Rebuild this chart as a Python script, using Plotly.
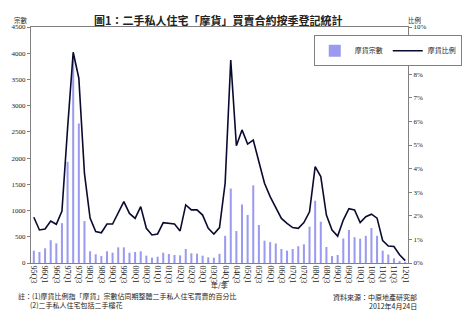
import plotly.graph_objects as go

# Quarters 95Q3 .. 12Q1
quarters = (["95Q3", "95Q4"]
            + [f"{y:02d}Q{q}" for y in list(range(96, 100)) + list(range(0, 12)) for q in range(1, 5)]
            + ["12Q1"])

# Confirmor transactions (cases)
cases = [235, 210, 280, 435, 375, 760, 1930, 3950, 2660, 800,
         223, 166, 134, 223, 197, 299, 299, 197, 210, 223,
         140, 102, 121, 197, 172, 153, 146, 267, 185, 178,
         140, 108, 101, 175, 518, 1420, 610, 1115, 915, 1480,
         725, 425, 398, 372, 267, 235, 267, 320, 356, 692,
         1188, 788, 305, 133, 153, 466, 629, 492, 464, 518,
         667, 518, 235, 162, 89, 30, 15]

# Confirmor share of all secondary transactions (%)
share = [1.94, 1.40, 1.44, 1.78, 1.64, 2.2, 5.7, 8.93, 7.83, 3.8,
         1.9, 1.33, 1.28, 1.65, 1.65, 2.13, 2.6, 2.1, 1.89, 2.39,
         1.47, 1.19, 1.23, 1.71, 1.68, 1.65, 1.36, 2.46, 2.25, 2.25,
         2.03, 1.47, 1.23, 1.5, 3.38, 8.6, 4.97, 5.64, 5.04, 5.21,
         4.29, 3.38, 2.81, 2.32, 1.89, 1.68, 1.5, 1.47, 1.71, 2.17,
         4.08, 3.66, 2.03, 1.4, 1.14, 1.82, 2.3, 2.25, 1.71, 1.96,
         2.07, 1.9, 0.95, 0.72, 0.7, 0.35, 0.1]

pct_ticks = list(range(0, 11))
pct_labels = [f"{v}%" for v in pct_ticks]

CJK = "Noto Sans CJK TC"
NUM = "Liberation Serif"
TXT = "#222"

fig = go.Figure()
fig.add_trace(go.Bar(x=quarters, y=cases, name="摩貨宗數",
                     marker=dict(color="#9a9af0", line=dict(width=0))))
fig.add_trace(go.Scatter(x=quarters, y=share, name="摩貨比例", yaxis="y2",
                         mode="lines", line=dict(color="#0a0a30", width=1.6)))

fig.update_layout(
    width=474, height=324,
    margin=dict(l=22, r=20, t=27, b=61),
    paper_bgcolor="white", plot_bgcolor="white",
    bargap=0.64,
    legend=dict(x=0.75, y=0.965, xanchor="left", yanchor="top",
                orientation="h", bgcolor="white", bordercolor="#808080",
                borderwidth=1, font=dict(family=CJK, size=7, color=TXT)),
    xaxis=dict(type="category", tickmode="array", tickvals=quarters[::2],
               tickangle=90, tickfont=dict(family=NUM, size=8, color=TXT),
               showline=True, linecolor="#808080", mirror=True, automargin=False,
               showgrid=False),
    yaxis=dict(range=[0, 4500], dtick=500, ticks="outside", ticklen=3,
               tickcolor="#808080", showline=True, linecolor="#808080",
               showgrid=False, zeroline=False,
               tickfont=dict(family=NUM, size=7, color=TXT)),
    yaxis2=dict(range=[0, 10], overlaying="y", side="right",
                tickvals=pct_ticks, ticktext=pct_labels, ticks="outside",
                ticklen=3, tickcolor="#808080", showline=True, linecolor="#808080",
                showgrid=False, zeroline=False,
                tickfont=dict(family=NUM, size=7, color=TXT)),
)

def px_x(px):
    return (px - 22) / 432

def px_y(py):
    return (263 - py) / 236

def label(text, x, y, size=7, anchor="center", bold=False, family=CJK):
    fig.add_annotation(xref="paper", yref="paper", showarrow=False,
                       text=f"<b>{text}</b>" if bold else text,
                       x=px_x(x), y=px_y(y), xanchor=anchor, borderpad=0,
                       font=dict(family=family, size=size, color=TXT))

label("圖1：二手私人住宅「摩貨」買賣合約按季登記統計", 237, 11, size=11, bold=True)
label("宗數", 10, 14, size=6.5)
label("比例", 462, 14, size=6.5)
label("年/季", 238, 291)
label("註：(1)摩貨比例指「摩貨」宗數佔同期整體二手私人住宅買賣的百分比", 6, 302, anchor="left")
label("(2)二手私人住宅包括二手樓花", 20, 311, anchor="left")
label("資料來源：中原地產研究部", 466, 303, anchor="right")
label("2012年4月24日", 466, 312, anchor="right")

fig.write_html("out.html")
